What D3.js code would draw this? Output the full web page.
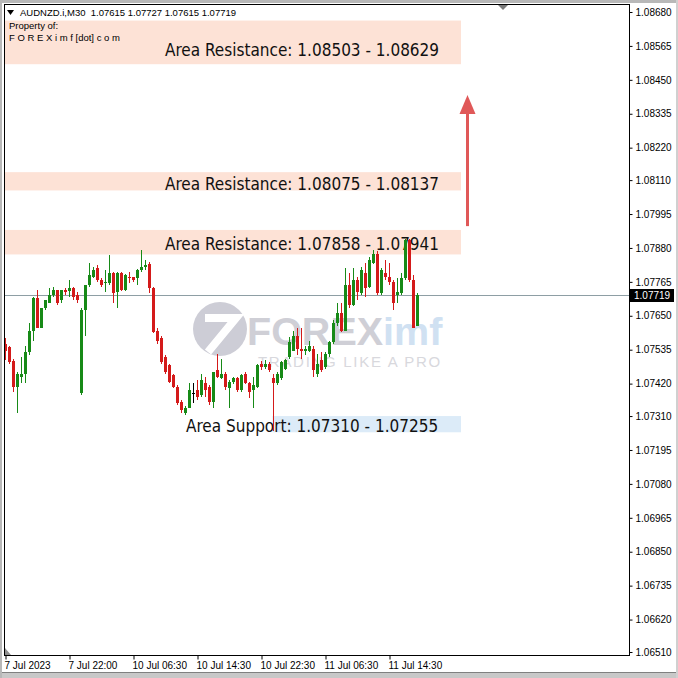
<!DOCTYPE html>
<html><head><meta charset="utf-8">
<script src="https://cdn.jsdelivr.net/npm/d3@7"></script>
<style>html,body{margin:0;padding:0;background:#fff;}svg{display:block}</style>
</head><body>
<svg id="c" width="678" height="678"></svg>
<script>
// ---------- DATA ----------
const symbol = "AUDNZD.i,M30";
const lastBarOHLC = [1.07615, 1.07727, 1.07615, 1.07719];
const opens = [
1.07556,1.07543,1.07495,1.07407,1.07444,1.07454,1.07526,1.07600,1.07709,1.07610,
1.07675,1.07695,1.07719,1.07736,1.07702,1.07736,1.07733,1.07743,1.07719,1.07387,
1.07668,1.07753,1.07780,1.07811,1.07770,1.07760,1.07760,1.07794,1.07729,1.07794,
1.07736,1.07783,1.07780,1.07777,1.07804,1.07814,1.07824,1.07743,1.07597,1.07573,
1.07509,1.07482,1.07448,1.07407,1.07356,1.07319,1.07339,1.07387,1.07397,1.07380,
1.07421,1.07407,1.07356,1.07465,1.07438,1.07454,1.07404,1.07424,1.07438,1.07397,
1.07451,1.07421,1.07397,1.07407,1.07488,1.07475,1.07488,1.07438,1.07421,1.07438,
1.07471,1.07509,1.07532,1.07583,1.07539,1.07532,1.07532,1.07539,1.07454,1.07499,
1.07475,1.07522,1.07560,1.07627,1.07661,1.07600,1.07753,1.07685,1.07770,1.07726,
1.07794,1.07746,1.07828,1.07861,1.07726,1.07794,1.07780,1.07763,1.07719,1.07726,
1.07777,1.07906,1.07770,1.07615];
const highs = [
1.07573,1.07546,1.07505,1.07461,1.07509,1.07549,1.07627,1.07712,1.07736,1.07678,
1.07705,1.07743,1.07746,1.07739,1.07739,1.07743,1.07770,1.07746,1.07729,1.07675,
1.07756,1.07828,1.07814,1.07821,1.07777,1.07804,1.07855,1.07797,1.07797,1.07797,
1.07790,1.07797,1.07783,1.07807,1.07872,1.07838,1.07831,1.07746,1.07610,1.07580,
1.07516,1.07488,1.07454,1.07414,1.07363,1.07343,1.07421,1.07421,1.07431,1.07454,
1.07441,1.07414,1.07461,1.07522,1.07505,1.07458,1.07431,1.07441,1.07441,1.07454,
1.07461,1.07424,1.07441,1.07485,1.07495,1.07499,1.07492,1.07454,1.07458,1.07495,
1.07505,1.07577,1.07600,1.07610,1.07610,1.07549,1.07566,1.07546,1.07522,1.07526,
1.07526,1.07563,1.07634,1.07695,1.07695,1.07811,1.07794,1.07811,1.07780,1.07814,
1.07828,1.07848,1.07872,1.07868,1.07811,1.07838,1.07828,1.07770,1.07777,1.07794,
1.07912,1.07912,1.07787,1.07727];
const lows = [
1.07499,1.07485,1.07390,1.07319,1.07421,1.07421,1.07516,1.07566,1.07607,1.07607,
1.07668,1.07692,1.07712,1.07688,1.07695,1.07722,1.07712,1.07702,1.07695,1.07383,
1.07583,1.07746,1.07777,1.07763,1.07746,1.07729,1.07756,1.07695,1.07678,1.07733,
1.07733,1.07760,1.07766,1.07753,1.07797,1.07804,1.07726,1.07590,1.07556,1.07488,
1.07454,1.07421,1.07404,1.07349,1.07322,1.07315,1.07336,1.07353,1.07363,1.07373,
1.07373,1.07349,1.07339,1.07438,1.07434,1.07397,1.07339,1.07417,1.07393,1.07390,
1.07417,1.07370,1.07339,1.07404,1.07465,1.07471,1.07461,1.07261,1.07414,1.07431,
1.07465,1.07505,1.07529,1.07516,1.07505,1.07516,1.07526,1.07441,1.07441,1.07458,
1.07471,1.07509,1.07556,1.07617,1.07594,1.07597,1.07678,1.07682,1.07702,1.07719,
1.07712,1.07743,1.07824,1.07722,1.07722,1.07770,1.07756,1.07668,1.07692,1.07719,
1.07770,1.07766,1.07607,1.07615];
const closes = [
1.07532,1.07492,1.07410,1.07451,1.07454,1.07526,1.07600,1.07709,1.07610,1.07675,
1.07702,1.07719,1.07736,1.07695,1.07736,1.07729,1.07743,1.07712,1.07702,1.07668,
1.07753,1.07787,1.07804,1.07770,1.07753,1.07763,1.07794,1.07726,1.07794,1.07736,
1.07787,1.07777,1.07773,1.07804,1.07814,1.07821,1.07743,1.07594,1.07566,1.07492,
1.07458,1.07424,1.07407,1.07353,1.07329,1.07339,1.07397,1.07387,1.07373,1.07431,
1.07397,1.07356,1.07458,1.07441,1.07454,1.07407,1.07424,1.07438,1.07397,1.07448,
1.07421,1.07390,1.07414,1.07482,1.07475,1.07488,1.07465,1.07421,1.07454,1.07492,
1.07499,1.07560,1.07583,1.07539,1.07532,1.07539,1.07549,1.07465,1.07488,1.07465,
1.07522,1.07560,1.07627,1.07658,1.07600,1.07753,1.07685,1.07770,1.07729,1.07804,
1.07743,1.07838,1.07861,1.07726,1.07804,1.07780,1.07763,1.07695,1.07729,1.07777,
1.07906,1.07770,1.07610,1.07719];
const priceTicks = [1.06510,1.06620,1.06735,1.06850,1.06965,1.07080,1.07195,1.07310,1.07420,1.07535,
  1.07650,1.07765,1.07880,1.07995,1.08110,1.08220,1.08335,1.08450,1.08565,1.08680];
const timeTickIndex = [0,16,32,48,64,80,96];
const timeTickLabels = ["7 Jul 2023","7 Jul 22:00","10 Jul 06:30","10 Jul 14:30","10 Jul 22:30","11 Jul 06:30","11 Jul 14:30"];
const zoneNames = ["Area Resistance","Area Resistance","Area Resistance","Area Support"];
const zoneFrom = [1.08503,1.08075,1.07858,1.07310];
const zoneTo   = [1.08629,1.08137,1.07941,1.07255];
const zoneStartBar = [null,null,null,67];
const zoneEndBar = 114;
const arrowBar = 115.5;
const arrowFromPrice = 1.07954, arrowToPrice = 1.08399;

// ---------- LAYOUT ----------
const W = 678, H = 678;
const frame = {l:4.5, t:4.5, r:629.5, b:655.5};
const svg = d3.select("#c");
const x = d3.scaleLinear().domain([0, 103]).range([5, 417]);
const y = d3.scaleLinear().domain([1.06510, 1.08680]).range([652, 12]);
const fmt = d3.format(".5f");
const GREEN = "#178a17", RED = "#d41a1a";
const FONT = "'Liberation Sans', Arial, sans-serif";
const LBLFONT = "'DejaVu Sans Condensed', 'DejaVu Sans', sans-serif";

svg.append("rect").attr("width", W).attr("height", H).attr("fill", "#fff");
// window edges
svg.append("rect").attr("x",0).attr("y",0).attr("width",W).attr("height",3).attr("fill","#b8b8b8");
svg.append("rect").attr("x",0).attr("y",673).attr("width",W).attr("height",5).attr("fill","#c8c8c8");
svg.append("rect").attr("x",0).attr("y",672).attr("width",W).attr("height",1).attr("fill","#808080");
svg.append("rect").attr("x",0).attr("y",0).attr("width",2).attr("height",H).attr("fill","#b8b8b8");
svg.append("rect").attr("x",676).attr("y",0).attr("width",2).attr("height",H).attr("fill","#d0d0d0");

svg.append("defs").append("clipPath").attr("id","clip")
  .append("rect").attr("x",frame.l).attr("y",frame.t).attr("width",frame.r-frame.l).attr("height",frame.b-frame.t);
const plot = svg.append("g").attr("clip-path","url(#clip)");

// zones
const zones = zoneNames.map((n,i)=>({name:n, a:zoneFrom[i], b:zoneTo[i], s:zoneStartBar[i], support:n.includes("Support")}));
const zoneTopPad = [6.5, 0, 0, 0];
plot.selectAll("rect.zone").data(zones).join("rect").attr("class","zone")
  .attr("x", d => d.s === null ? frame.l : x(d.s) - 0.5)
  .attr("width", d => x(zoneEndBar) - (d.s === null ? frame.l : x(d.s) - 0.5))
  .attr("y", (d,i) => y(Math.max(d.a,d.b)) - zoneTopPad[i])
  .attr("height", (d,i) => y(Math.min(d.a,d.b)) - y(Math.max(d.a,d.b)) + zoneTopPad[i])
  .attr("fill", d => d.support ? "#dcebf8" : "#fde2d6");

// watermark
const wm = plot.append("g");
wm.append("circle").attr("cx",220).attr("cy",329).attr("r",27).attr("fill","#cdcdd6");
wm.append("path").attr("d","M205,318 L236,318 L208,352").attr("fill","none").attr("stroke","#fff").attr("stroke-width",8).attr("stroke-linejoin","miter");
wm.append("text").attr("x",247).attr("y",345).attr("font-family",FONT).attr("font-weight","bold").attr("font-size",39.5)
  .attr("fill","#cfcfd6").text("FOREX")
  .append("tspan").attr("fill","#d0e1f2").text("imf");
wm.append("text").attr("x",258).attr("y",367).attr("font-family",FONT).attr("font-size",15).attr("letter-spacing",1.7)
  .attr("fill","#d8d8dd").text("TRADING LIKE A PRO");

// current price line
const lastY = Math.round(y(closes[closes.length-1]));
plot.append("line").attr("x1",frame.l).attr("x2",frame.r).attr("y1",lastY+0.5).attr("y2",lastY+0.5)
  .attr("stroke","#8e9ea4").attr("stroke-width",1);

// zone labels
const labelX = [165,165,165,186];
const labelBase = [56, 190, 250, 432];
svg.selectAll("text.zl").data(zones).join("text").attr("class","zl")
  .attr("x",(d,i)=>labelX[i]).attr("y",(d,i)=>labelBase[i])
  .attr("font-family",LBLFONT).attr("font-size",17).attr("fill","#111")
  .text(d => `${d.name}: ${fmt(d.a)} - ${fmt(d.b)}`);

// candles
const bars = opens.map((o,i)=>({i, o, h:highs[i], l:lows[i], c:closes[i]}));
const col = d => d.c > d.o ? GREEN : (d.c < d.o ? RED : "#000");
const cg = svg.append("g").attr("clip-path","url(#clip)");
cg.selectAll("rect.wick").data(bars).join("rect").attr("class","wick")
  .attr("x", d => Math.round(x(d.i))).attr("width",1)
  .attr("y", d => Math.round(y(d.h))).attr("height", d => Math.max(1, Math.round(y(d.l)) - Math.round(y(d.h))))
  .attr("fill", col);
cg.selectAll("rect.body").data(bars).join("rect").attr("class","body")
  .attr("x", d => Math.round(x(d.i)) - 1).attr("width",3)
  .attr("y", d => Math.round(y(Math.max(d.o,d.c))))
  .attr("height", d => Math.max(1, Math.round(y(Math.min(d.o,d.c))) - Math.round(y(Math.max(d.o,d.c)))))
  .attr("fill", col);

// arrow
const ax = Math.round(x(arrowBar)) + 0.5;
svg.append("line").attr("x1",ax).attr("x2",ax).attr("y1",y(arrowFromPrice)).attr("y2",y(arrowToPrice)+16)
  .attr("stroke","#e05858").attr("stroke-width",3);
svg.append("path").attr("d",`M${ax},${y(arrowToPrice)} L${ax-8},${y(arrowToPrice)+19} L${ax+8},${y(arrowToPrice)+19} Z`)
  .attr("fill","#e05858");

// frame
svg.append("rect").attr("x",frame.l).attr("y",frame.t).attr("width",frame.r-frame.l).attr("height",frame.b-frame.t)
  .attr("fill","none").attr("stroke","#000").attr("stroke-width",1);

// right axis
const ya = svg.append("g").attr("transform",`translate(${frame.r},0)`)
  .call(d3.axisRight(y).tickValues(priceTicks).tickSize(3).tickPadding(3).tickFormat(fmt));
ya.select(".domain").remove();
ya.selectAll("text").attr("font-family",FONT).attr("font-size",10).attr("fill","#000");
ya.selectAll("line").attr("stroke","#000");

// bottom axis
const xa = svg.append("g").attr("transform",`translate(0,${frame.b})`)
  .call(d3.axisBottom(x).tickValues(timeTickIndex).tickSize(4).tickPadding(2).tickFormat((d,i)=>timeTickLabels[i]));
xa.select(".domain").remove();
xa.selectAll("text").attr("font-family",FONT).attr("font-size",10).attr("fill","#000").attr("text-anchor","start").attr("dx",-1);
xa.selectAll("line").attr("stroke","#000").attr("transform","translate(0.5,0)");

// current price tag
svg.append("rect").attr("x",630).attr("y",lastY-6).attr("width",44).attr("height",13).attr("fill","#000");
svg.append("text").attr("x",634).attr("y",lastY+4).attr("font-family",FONT).attr("font-size",10).attr("fill","#fff").text(fmt(closes[closes.length-1]));

// markers
svg.append("path").attr("d","M498,5 L508,5 L503,10 Z").attr("fill","#7a7a7a");
svg.append("path").attr("d","M5,648 L5,655 L11,655 Z").attr("fill","#909090");

// header
const hdr = svg.append("g").attr("font-family",FONT).attr("font-size",9.5).attr("fill","#000");
hdr.append("path").attr("d","M7,10 L14,10 L10.5,15 Z").attr("fill","#000");
hdr.append("text").attr("x",20).attr("y",16).attr("xml:space","preserve")
  .text(`${symbol}  ${lastBarOHLC.map(fmt).join(" ")}`);
hdr.append("text").attr("x",9).attr("y",29).text("Property of:");
hdr.append("text").attr("x",9).attr("y",41).text("F O R E X i m f [dot] c o m");
</script>
</body></html>
